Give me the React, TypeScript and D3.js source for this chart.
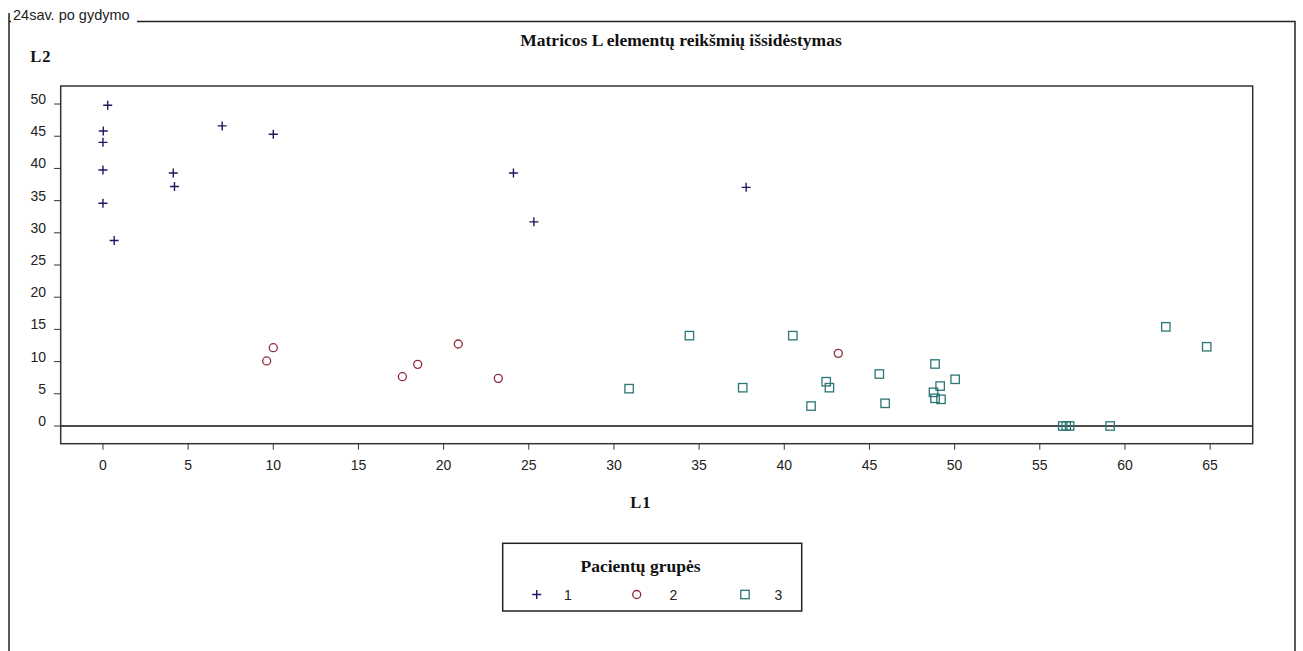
import React from "react";
import * as d3 from "d3";

const group1X = [0.28, 0.02, 0, 0, 0, 0.66, 4.13, 4.2, 7.0, 10.0, 24.1, 25.3, 37.76];
const group1Y = [49.8, 45.8, 44.05, 39.75, 34.6, 28.8, 39.3, 37.2, 46.6, 45.3, 39.3, 31.7, 37.06];
const group2X = [9.61, 10.0, 17.58, 18.48, 20.86, 23.21, 43.17];
const group2Y = [10.1, 12.16, 7.66, 9.57, 12.73, 7.4, 11.28];
const group3X = [30.89, 34.43, 37.56, 40.5, 41.57, 42.46, 42.65, 45.58, 45.92, 48.76, 48.85, 48.85, 49.15, 49.2, 50.03, 56.35, 56.55, 56.75, 59.13, 62.4, 64.8];
const group3Y = [5.8, 14.03, 5.95, 14.03, 3.1, 6.88, 5.95, 8.07, 3.52, 5.23, 9.63, 4.3, 6.2, 4.14, 7.25, 0, 0, 0, 0, 15.4, 12.3];

const xTicks = [0, 5, 10, 15, 20, 25, 30, 35, 40, 45, 50, 55, 60, 65];
const yTicks = [0, 5, 10, 15, 20, 25, 30, 35, 40, 45, 50];
const groupLabels = ["1", "2", "3"];

const title = "Matricos L elementų reikšmių išsidėstymas";
const frameLabel = "24sav. po gydymo";
const xLabel = "L1";
const yLabel = "L2";
const legendTitle = "Pacientų grupės";

const C1 = "#1a1a60";
const C2 = "#8e2a3a";
const C3 = "#2b7676";

const sans = "'Liberation Sans', Arial, sans-serif";
const serif = "'Liberation Serif', 'Times New Roman', serif";

function Plus({ x, y }: { x: number; y: number }) {
  return (
    <path d={`M${x - 4.5},${y}H${x + 4.5}M${x},${y - 4.5}V${y + 4.5}`} stroke={C1} strokeWidth={1.4} fill="none" />
  );
}
function Circ({ x, y }: { x: number; y: number }) {
  return <circle cx={x} cy={y} r={4} stroke={C2} strokeWidth={1.3} fill="none" />;
}
function Sq({ x, y }: { x: number; y: number }) {
  return <rect x={x - 4.2} y={y - 4.2} width={8.4} height={8.4} stroke={C3} strokeWidth={1.3} fill="none" />;
}

export default function App() {
  const L = 60.7, R = 1252.7, T = 86, B = 443.7;
  const x = d3.scaleLinear().domain([-2.48, 67.5]).range([L, R]);
  const y = d3.scaleLinear().domain([-2.75, 52.8]).range([B, T]);

  return (
    <svg
      width={1303}
      height={651}
      style={{ position: "absolute", left: 0, top: 0, background: "#fff" }}
    >
      <rect x={0} y={0} width={1303} height={651} fill="#fff" />
      {/* outer frame */}
      <path d={`M9,13V700M9,21.5H1295V700`} stroke="#222" strokeWidth={1.5} fill="none" />
      <rect x={11} y={6} width={126} height={20} fill="#fff" />
      <text x={13} y={19.5} fontFamily={sans} fontSize={14.5} fill="#222">{frameLabel}</text>

      {/* title */}
      <text x={681} y={46} textAnchor="middle" fontFamily={serif} fontWeight="bold" fontSize={17.5} fill="#111">{title}</text>
      <text x={41} y={62} textAnchor="middle" fontFamily={serif} fontWeight="bold" fontSize={16.5} fill="#111" letterSpacing={1}>{yLabel}</text>
      <text x={641} y={508} textAnchor="middle" fontFamily={serif} fontWeight="bold" fontSize={16.5} fill="#111" letterSpacing={1}>{xLabel}</text>

      {/* plot frame */}
      <rect x={L} y={T} width={R - L} height={B - T} fill="none" stroke="#333" strokeWidth={1.5} />
      <line x1={L} x2={R} y1={y(0)} y2={y(0)} stroke="#111" strokeWidth={1.5} />

      {yTicks.map((t) => (
        <g key={"y" + t}>
          <line x1={54} x2={L} y1={y(t)} y2={y(t)} stroke="#333" strokeWidth={1} />
          <text x={46} y={y(t)} textAnchor="end" fontFamily={sans} fontSize={14} fill="#222">{t}</text>
        </g>
      ))}
      {xTicks.map((t) => (
        <g key={"x" + t}>
          <line x1={x(t)} x2={x(t)} y1={B} y2={B + 6} stroke="#333" strokeWidth={1} />
          <text x={x(t)} y={469.5} textAnchor="middle" fontFamily={sans} fontSize={14} fill="#222">{t}</text>
        </g>
      ))}

      {group3X.map((v, i) => <Sq key={"s" + i} x={x(v)} y={y(group3Y[i])} />)}
      {group2X.map((v, i) => <Circ key={"c" + i} x={x(v)} y={y(group2Y[i])} />)}
      {group1X.map((v, i) => <Plus key={"p" + i} x={x(v)} y={y(group1Y[i])} />)}

      {/* legend */}
      <rect x={502.7} y={543.3} width={299} height={67.7} fill="none" stroke="#222" strokeWidth={1.5} />
      <text x={640.5} y={572} textAnchor="middle" fontFamily={serif} fontWeight="bold" fontSize={17.5} fill="#111">{legendTitle}</text>
      <Plus x={536.7} y={594.5} />
      <text x={568} y={600} textAnchor="middle" fontFamily={sans} fontSize={14} fill="#222">{groupLabels[0]}</text>
      <Circ x={636.7} y={594.5} />
      <text x={673.5} y={600} textAnchor="middle" fontFamily={sans} fontSize={14} fill="#222">{groupLabels[1]}</text>
      <Sq x={745} y={594.5} />
      <text x={778.5} y={600} textAnchor="middle" fontFamily={sans} fontSize={14} fill="#222">{groupLabels[2]}</text>
    </svg>
  );
}
